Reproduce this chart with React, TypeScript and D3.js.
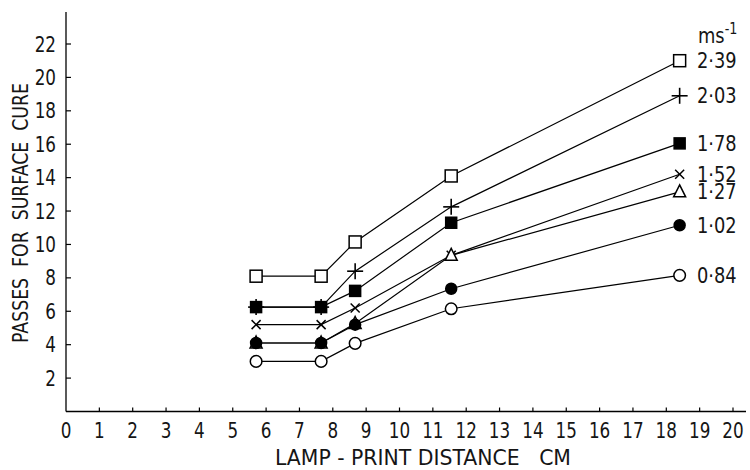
import React from "react";
import * as d3 from "d3";

const distances = [5.7, 7.65, 8.67, 11.55, 18.4];
const speedLabels = ["2·39", "2·03", "1·78", "1·52", "1·27", "1·02", "0·84"];
const markerKinds = ["openSquare", "plus", "filledSquare", "cross", "triangle", "filledCircle", "openCircle"];
const passes239 = [8.1, 8.1, 10.15, 14.1, 21.0];
const passes203 = [6.25, 6.25, 8.4, 12.25, 18.9];
const passes178 = [6.25, 6.25, 7.22, 11.3, 16.05];
const passes152 = [5.2, 5.2, 6.2, 9.35, 14.2];
const passes127 = [4.1, 4.1, 5.27, 9.35, 13.15];
const passes102 = [4.1, 4.1, 5.2, 7.35, 11.15];
const passes084 = [3.0, 3.0, 4.08, 6.15, 8.15];
const seriesValues = [passes239, passes203, passes178, passes152, passes127, passes102, passes084];
const xTicks = d3.range(0, 21);
const yTicks = d3.range(2, 23, 2);

const FONT = "'DejaVu Sans', sans-serif";
const FS = 21;
const INK = "#151515";

function T({
  x,
  y,
  anchor = "start",
  children,
  size = FS,
  sx = 0.8,
}: {
  x: number;
  y: number;
  anchor?: string;
  children: React.ReactNode;
  size?: number;
  sx?: number;
}) {
  return (
    <text transform={`translate(${x},${y}) scale(${sx},1)`} textAnchor={anchor} fontSize={size} fill={INK}>
      {children}
    </text>
  );
}

function Marker({ kind, cx, cy }: { kind: string; cx: number; cy: number }) {
  const sw = 1.5;
  switch (kind) {
    case "openSquare":
      return <rect x={cx - 6} y={cy - 6} width={12} height={12} fill="#fff" stroke="#000" strokeWidth={sw} />;
    case "filledSquare":
      return <rect x={cx - 5.5} y={cy - 5.5} width={11} height={11} fill="#000" stroke="#000" strokeWidth={sw} />;
    case "plus":
      return (
        <g stroke="#000" strokeWidth={1.6}>
          <line x1={cx - 8} y1={cy} x2={cx + 8} y2={cy} />
          <line x1={cx} y1={cy - 8} x2={cx} y2={cy + 8} />
        </g>
      );
    case "cross":
      return (
        <g stroke="#000" strokeWidth={1.5}>
          <line x1={cx - 4.5} y1={cy - 4.5} x2={cx + 4.5} y2={cy + 4.5} />
          <line x1={cx - 4.5} y1={cy + 4.5} x2={cx + 4.5} y2={cy - 4.5} />
        </g>
      );
    case "triangle":
      return (
        <path d={`M${cx},${cy - 7}L${cx + 6},${cy + 5}L${cx - 6},${cy + 5}Z`} fill="#fff" stroke="#000" strokeWidth={sw} />
      );
    case "filledCircle":
      return <circle cx={cx} cy={cy} r={5.5} fill="#000" stroke="#000" strokeWidth={sw} />;
    case "openCircle":
      return <circle cx={cx} cy={cy} r={5.8} fill="#fff" stroke="#000" strokeWidth={sw} />;
    default:
      return null;
  }
}

export default function App() {
  const W = 750;
  const H = 470;
  const x = d3.scaleLinear().domain([0, 20]).range([66, 733]);
  const y = d3.scaleLinear().domain([0, 22]).range([411.5, 44]);
  const line = d3
    .line<[number, number]>()
    .x((d) => x(d[0]))
    .y((d) => y(d[1]));

  return (
    <svg
      width={W}
      height={H}
      style={{ position: "absolute", left: 0, top: 0, background: "#fff" }}
      fontFamily={FONT}
    >
      <rect width={W} height={H} fill="#fff" />
      {/* axes */}
      <line x1={x(0)} y1={12} x2={x(0)} y2={y(0)} stroke="#000" strokeWidth={1.3} />
      <line x1={x(0)} y1={y(0)} x2={746} y2={y(0)} stroke="#000" strokeWidth={1.3} />
      {yTicks.map((t) => (
        <g key={"y" + t}>
          <line x1={x(0)} x2={x(0) + 5} y1={y(t)} y2={y(t)} stroke="#000" strokeWidth={1.2} />
          <T x={56} y={y(t) + 7.5} anchor="end">
            {t}
          </T>
        </g>
      ))}
      {xTicks.map((t) => (
        <g key={"x" + t}>
          {t > 0 && <line x1={x(t)} x2={x(t)} y1={y(0)} y2={y(0) - 4} stroke="#000" strokeWidth={1.2} />}
          <T x={x(t)} y={437.5} anchor="middle">
            {t}
          </T>
        </g>
      ))}
      <text
        x={423}
        y={465}
        textAnchor="middle"
        fontSize={FS}
        fill={INK}
        textLength={296}
        lengthAdjust="spacingAndGlyphs"
      >
        LAMP - PRINT DISTANCE{"\u00a0\u00a0\u00a0"}CM
      </text>
      <text
        transform={`translate(28,213) rotate(-90)`}
        textAnchor="middle"
        fontSize={22}
        fill={INK}
        textLength={260}
        lengthAdjust="spacingAndGlyphs"
      >
        PASSES{"\u00a0\u00a0"}FOR{"\u00a0\u00a0"}SURFACE{"\u00a0\u00a0"}CURE
      </text>
      {/* series lines */}
      {seriesValues.map((vals, i) => (
        <path
          key={"l" + i}
          d={line(distances.map((dd, j) => [dd, vals[j]] as [number, number])) || ""}
          fill="none"
          stroke="#000"
          strokeWidth={1.2}
        />
      ))}
      {/* markers */}
      {seriesValues.map((vals, i) => (
        <g key={"m" + i}>
          {distances.map((dd, j) => (
            <Marker key={j} kind={markerKinds[i]} cx={x(dd)} cy={y(vals[j])} />
          ))}
        </g>
      ))}
      {/* labels */}
      <T x={698} y={43} sx={0.85}>
        ms
        <tspan dy={-9} fontSize={15}>
          -1
        </tspan>
      </T>
      {seriesValues.map((vals, i) => (
        <T key={"t" + i} x={697} y={y(vals[4]) + 7.5} sx={0.85}>
          {speedLabels[i]}
        </T>
      ))}
    </svg>
  );
}
